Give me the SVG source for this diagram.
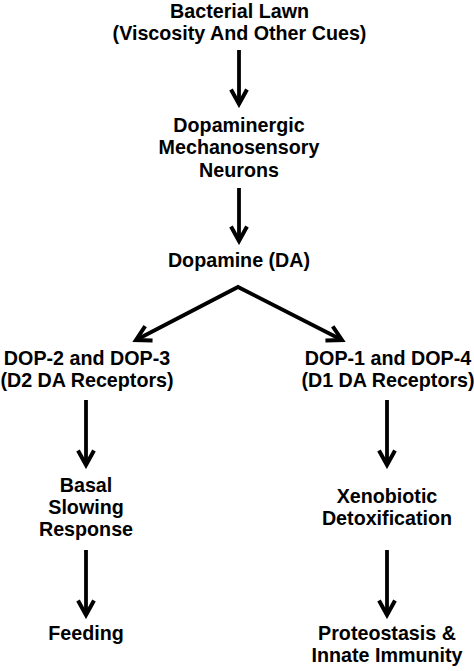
<svg xmlns="http://www.w3.org/2000/svg" width="474" height="671" viewBox="0 0 474 671">
<style>
text{font-family:"Liberation Sans",Arial,sans-serif;font-weight:bold;font-size:19.7px;fill:#000;text-anchor:middle}
.c{fill:none;stroke:#000;stroke-width:3.8}
</style>
<defs>
<marker id="ah" markerUnits="userSpaceOnUse" viewBox="-20 -12 24 24" markerWidth="24" markerHeight="24" refX="0" refY="0" orient="auto-start-reverse">
<path d="M-14.5,-8 L0,0 L-14.5,8" fill="none" stroke="#000" stroke-width="4" stroke-linejoin="miter" stroke-miterlimit="10"/>
</marker>
</defs>
<rect width="474" height="671" fill="#fff"/>
<g id="n-lawn"><text x="239.5" y="18">Bacterial Lawn</text><text x="239.5" y="40">(Viscosity And Other Cues)</text></g>
<g id="n-neurons"><text x="239" y="132">Dopaminergic</text><text x="239" y="154">Mechanosensory</text><text x="239" y="177">Neurons</text></g>
<g id="n-da"><text x="239" y="267">Dopamine (DA)</text></g>
<g id="n-d2"><text x="87" y="365">DOP-2 and DOP-3</text><text x="87" y="387">(D2 DA Receptors)</text></g>
<g id="n-d1"><text x="388" y="365">DOP-1 and DOP-4</text><text x="388" y="387">(D1 DA Receptors)</text></g>
<g id="n-basal"><text x="86" y="492">Basal</text><text x="86" y="514">Slowing</text><text x="86" y="536">Response</text></g>
<g id="n-xeno"><text x="387" y="503">Xenobiotic</text><text x="387" y="525">Detoxification</text></g>
<g id="n-feeding"><text x="86" y="640">Feeding</text></g>
<g id="n-proteo"><text x="387" y="640">Proteostasis &amp;</text><text x="387" y="662">Innate Immunity</text></g>
<g id="connectors">
<path class="c" d="M239,50 L239,104" marker-end="url(#ah)"/>
<path class="c" d="M239,188 L239,241" marker-end="url(#ah)"/>
<path class="c" d="M136,340 L238,287 L342,340" marker-start="url(#ah)" marker-end="url(#ah)"/>
<path class="c" d="M86,400 L86,465" marker-end="url(#ah)"/>
<path class="c" d="M387,400 L387,465" marker-end="url(#ah)"/>
<path class="c" d="M86,550 L86,615" marker-end="url(#ah)"/>
<path class="c" d="M387,550 L387,615" marker-end="url(#ah)"/>
</g>
</svg>
